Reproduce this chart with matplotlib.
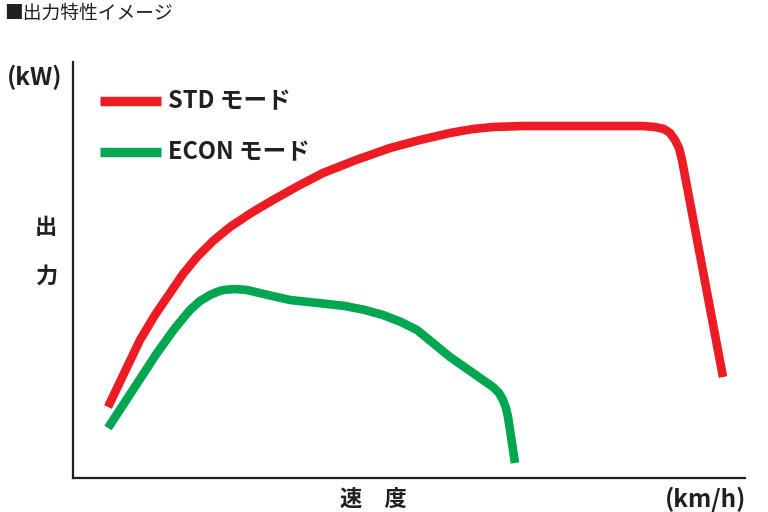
import matplotlib
matplotlib.use("Agg")
import matplotlib.pyplot as plt
from matplotlib.lines import Line2D

plt.rcParams['font.family'] = ['Noto Sans CJK JP', 'DejaVu Sans']

# values (arbitrary units, origin at the axes corner)
std_x = [35, 67, 82, 97, 110, 124, 140, 157, 178, 200, 225, 250, 283, 317, 347,
         377, 400, 420, 450, 477, 527, 570, 582, 591, 597, 602, 606, 609, 650]
std_y = [71, 138, 163, 185, 204, 221, 237, 251, 265, 278, 292, 305, 318, 330, 338,
         345, 349, 351, 352, 352, 352, 352, 351, 349, 345, 338, 330, 318, 101]
econ_x = [35, 84, 102, 117, 127, 137, 144, 150, 162, 174, 195, 217, 245, 272, 292,
          310, 328, 344, 360, 377, 400, 420, 426, 430, 433, 435, 437, 442]
econ_y = [50, 125, 150, 168, 177, 183, 186, 188, 189, 188, 183, 178, 175, 172, 168,
          163, 156, 148, 135, 121, 105, 91, 85, 78, 70, 61, 48, 15]

series_names = ['STD モード', 'ECON モード']
series_colors = ['#ED1C24', '#00A650']

W, H = 768, 512
fig = plt.figure(figsize=(W / 100, H / 100), dpi=100)
ax = fig.add_axes([73 / W, 34 / H, 672 / W, 416 / H])

lw = 6.2
ax.plot(std_x, std_y, color=series_colors[0], lw=lw, solid_capstyle='butt', solid_joinstyle='round')
ax.plot(econ_x, econ_y, color=series_colors[1], lw=lw, solid_capstyle='butt', solid_joinstyle='round')

ax.set_xlim(0, 672)
ax.set_ylim(0, 416)
ax.set_xticks([])
ax.set_yticks([])
for s in ['top', 'right']:
    ax.spines[s].set_visible(False)
for s in ['left', 'bottom']:
    ax.spines[s].set_linewidth(1.6)
    ax.spines[s].set_color('#231f20')

# hand-made legend
for i, (name, col) in enumerate(zip(series_names, series_colors)):
    yy = 1 - (101 + 51 * i) / H
    fig.add_artist(Line2D([100 / W, 161 / W], [yy, yy], color=col, lw=6.8,
                          solid_capstyle='butt'))
    fig.text(168 / W, yy, name, fontsize=17, fontweight='bold', color='#231f20',
             va='center', ha='left')

txt = dict(color='#231f20', fontweight='bold')
fig.text(4 / W, 1 - 13 / H, '■出力特性イメージ', fontsize=13.5, color='#231f20',
         va='center', ha='left')
fig.text(7 / W, 1 - 77 / H, '(kW)', fontsize=17.5, va='center', ha='left', **txt)
fig.text(46 / W, 1 - 228 / H, '出', fontsize=16, va='center', ha='center', **txt)
fig.text(46 / W, 1 - 276 / H, '力', fontsize=16, va='center', ha='center', **txt)
fig.text(373 / W, 1 - 499 / H, '速　度', fontsize=16, va='center', ha='center', **txt)
fig.text(746 / W, 1 - 499 / H, '(km/h)', fontsize=17.5, va='center', ha='right', **txt)

fig.savefig('out.png', dpi=100)
